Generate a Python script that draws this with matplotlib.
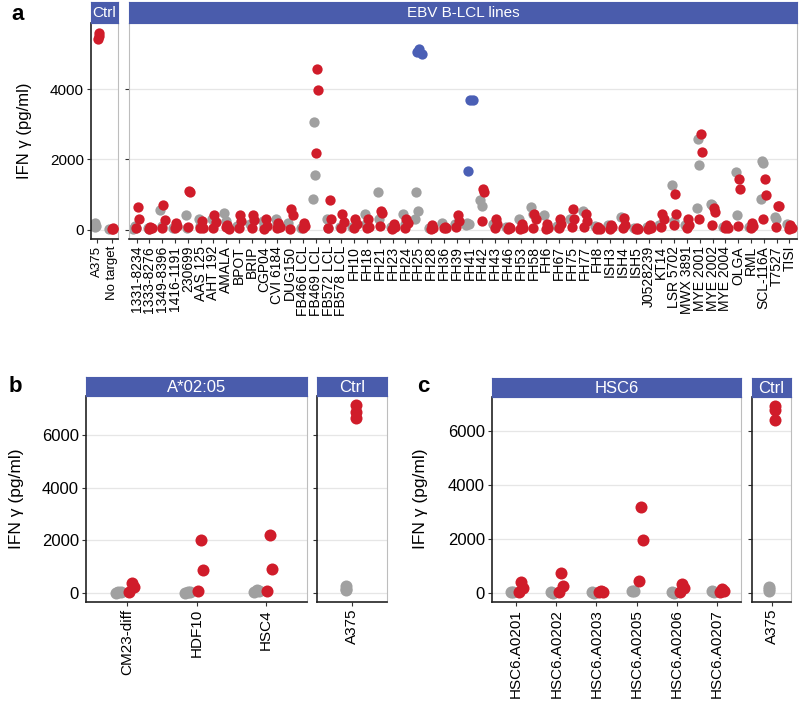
import numpy as np
import matplotlib
matplotlib.use("Agg")
import matplotlib.pyplot as plt

plt.rcParams['font.family'] = ['Liberation Sans', 'DejaVu Sans']

# ===================== DATA =====================
# panel a - controls
ctrl_a      = ["A375", "No target"]
ctrl_a_gray = [[200, 100, 60], [10]]
ctrl_a_red  = [[5600, 5500, 5420], [30, 20, 10]]

# panel a - EBV B-LCL lines
lines_a = ["1331-8234", "1333-8276", "1349-8396", "1416-1191", "230699", "AAS 125",
           "AHT 192", "AMALA", "BPOT", "BRIP", "CGP04", "CVI 6184", "DUG150",
           "FB466 LCL", "FB469 LCL", "FB572 LCL", "FB578 LCL", "FH10", "FH18", "FH21",
           "FH23", "FH24", "FH25", "FH28", "FH36", "FH39", "FH41", "FH42", "FH43",
           "FH46", "FH53", "FH58", "FH6", "FH67", "FH75", "FH77", "FH8", "ISH3", "ISH4",
           "ISH5", "J0528239", "KT14", "LSR 5702", "MWX 3891", "MYE 2001", "MYE 2002",
           "MYE 2004", "OLGA", "RML", "SCL-116A", "T7527", "TISI"]
gray_a = [[100, 50, 20], [50, 20], [570, 100], [40], [400, 50], [300, 100],
          [300], [480, 250], [100], [150], [250, 100], [300, 150], [200],
          [50], [3050, 1540, 870], [300, 50], [80], [60], [450, 150], [1080, 300],
          [80], [450, 150], [1060, 540, 300], [30], [200], [150], [180, 150, 120], [830, 680], [150],
          [60], [310], [650, 450], [400], [100], [310], [540], [100], [120], [360],
          [50], [80], [120], [1280, 250], [120], [2570, 1830, 610], [730, 700],
          [80], [1650, 420], [80], [1960, 1880, 870], [370, 300], [150]]
red_a = [[650, 300, 30], [80, 50, 20], [700, 280, 30], [200, 100, 30], [1100, 1060, 80], [250, 50, 30],
         [420, 220, 40], [120, 20, 60], [420, 250, 30], [420, 280, 30], [300, 100, 20], [200, 80, 30], [590, 400, 20],
         [200, 100, 50], [4580, 3980, 2180], [830, 300, 40], [450, 220, 40], [300, 150, 50], [310, 80, 30], [520, 480, 110],
         [150, 60, 20], [310, 200, 40], [], [120, 40, 20], [70, 30, 50], [400, 250, 80], [], [1150, 1070, 240], [310, 150, 30],
         [80, 30, 10], [150, 30, 10], [450, 300, 50], [150, 30, 20], [310, 150, 30], [590, 310, 85], [450, 250, 80], [60, 20, 10], [120, 60, 20], [340, 120, 40],
         [30, 10, 20], [120, 40, 20], [450, 300, 80], [1015, 450, 120], [310, 120, 30], [2730, 2220, 310], [600, 500, 120],
         [120, 50, 30], [1440, 1150, 100], [200, 100, 30], [1440, 970, 310], [670, 660, 75], [120, 50, 20]]
blue_a = {"FH25": [5150, 5000, 5050], "FH41": [3700, 3680, 1670]}

# panel b
cells_b     = ["CM23-diff", "HDF10", "HSC4"]
gray_b      = [[30, 10, 0], [30, 10, 0], [100, 50, 20]]
red_b       = [[350, 200, 20], [2020, 850, 50], [2210, 910, 50]]
ctrl_b_gray = [[250, 150, 100]]
ctrl_b_red  = [[7150, 6900, 6680]]

# panel c
cells_c     = ["HSC6.A0201", "HSC6.A0202", "HSC6.A0203", "HSC6.A0205", "HSC6.A0206", "HSC6.A0207"]
gray_c      = [[50, 30], [30, 20], [30, 20], [100, 80], [30, 20], [80, 60]]
red_c       = [[420, 200, 30], [750, 250, 30], [80, 60, 40], [3190, 1960, 440], [350, 200, 30], [150, 100, 60]]
ctrl_c_gray = [[220, 150, 100]]
ctrl_c_red  = [[6920, 6800, 6400]]

# ===================== STYLE =====================
GRAY, RED, BLUE = "#A0A0A0", "#D01C2A", "#4A5FB5"
STRIP = "#4A5CAC"
W, H = 800, 702


def box(x0, y0, x1, y1):
    # pixel box (top-left origin) -> figure fraction
    return [x0 / W, 1 - y1 / H, (x1 - x0) / W, (y1 - y0) / H]


def strip(fig, x0, x1, y0, y1, text, fs):
    sax = fig.add_axes(box(x0, y0, x1, y1))
    sax.set_facecolor(STRIP)
    sax.set_xticks([]); sax.set_yticks([])
    for s in sax.spines.values():
        s.set_color(STRIP)
    sax.text(0.5, 0.47, text, color="white", fontsize=fs, ha="center", va="center",
             transform=sax.transAxes)


def panel(ax, cats, gray, red, blue=None, ylim=(0, 1), yticks=(), show_y=True,
          ms=36, xfs=10, yfs=11, dark_left=True, jw=0.0, goff=-0.15, roff=0.08,
          xpad=0.6):
    jit = [0.0, 1.0, -1.0]
    for i, c in enumerate(cats):
        g = gray[i]
        ax.scatter([i + goff + jit[k % 3] * jw for k in range(len(g))], g, s=ms,
                   color=GRAY, lw=0, zorder=2)
        r = red[i]
        ax.scatter([i + roff + jit[k % 3] * jw for k in range(len(r))], r, s=ms,
                   color=RED, lw=0, zorder=3)
        if blue and c in blue:
            b = blue[c]
            ax.scatter([i + roff + jit[k % 3] * 0.2 for k in range(len(b))], b, s=ms,
                       color=BLUE, lw=0, zorder=3)
    ax.set_xlim(-xpad, len(cats) - 1 + xpad)
    ax.set_ylim(*ylim)
    ax.set_xticks(range(len(cats)))
    ax.set_xticklabels(cats, rotation=90, fontsize=xfs)
    ax.set_yticks(yticks)
    for y in yticks:
        ax.axhline(y, color="#E6E6E6", lw=0.9, zorder=0)
    if show_y:
        ax.set_yticklabels([str(y) for y in yticks], fontsize=yfs)
    else:
        ax.tick_params(axis="y", length=0, labelleft=False)
    ax.tick_params(axis="both", length=3, width=0.8, color="#333333", pad=2)
    for s in ("top", "right"):
        ax.spines[s].set_color("#BDBDBD")
    ax.spines["bottom"].set_color("#222222")
    ax.spines["bottom"].set_linewidth(1.2)
    ax.spines["left"].set_color("#222222" if dark_left else "#BDBDBD")
    ax.spines["left"].set_linewidth(1.2 if dark_left else 0.8)


def yrange(*groups):
    vals = [v for g in groups for lst in g for v in lst]
    lo, hi = min(vals), max(vals)
    pad = 0.05 * (hi - lo)
    return lo - pad, hi + pad


fig = plt.figure(figsize=(W / 100, H / 100), dpi=100)

# ---- panel a ----
ylim_a = yrange(ctrl_a_gray, ctrl_a_red, gray_a, red_a, list(blue_a.values()))
ax = fig.add_axes(box(91, 23, 118, 239))
panel(ax, ctrl_a, ctrl_a_gray, ctrl_a_red, ylim=ylim_a, yticks=[0, 2000, 4000], ms=55,
      xfs=9.5, jw=0.05, xpad=0.45)
ax = fig.add_axes(box(129, 23, 797, 239))
panel(ax, lines_a, gray_a, red_a, blue_a, ylim=ylim_a, yticks=[0, 2000, 4000],
      show_y=False, ms=55, xfs=10, dark_left=False, jw=0.1)
strip(fig, 91, 118, 2, 23, "Ctrl", 11)
strip(fig, 129, 797, 2, 23, "EBV B-LCL lines", 11)
fig.text(18 / W, 1 - 15 / H, "a", fontsize=16, fontweight="bold", ha="center", va="center")
fig.text(25 / W, 1 - 131 / H, "IFN γ (pg/ml)", rotation=90, fontsize=12,
         ha="center", va="center")

# ---- panel b ----
ylim_b = yrange(gray_b, red_b, ctrl_b_gray, ctrl_b_red)
ax = fig.add_axes(box(86, 396, 307, 602))
panel(ax, cells_b, gray_b, red_b, ylim=ylim_b, yticks=[0, 2000, 4000, 6000], ms=75,
      xfs=11, yfs=12, jw=0.04, goff=-0.13, roff=0.06)
ax = fig.add_axes(box(317, 396, 387, 602))
panel(ax, ["A375"], ctrl_b_gray, ctrl_b_red, ylim=ylim_b, yticks=[0, 2000, 4000, 6000],
      show_y=False, ms=75, xfs=11, goff=-0.1, roff=0.07)
strip(fig, 86, 307, 377, 396, "A*02:05", 12)
strip(fig, 317, 387, 377, 396, "Ctrl", 12)
fig.text(15 / W, 1 - 387 / H, "b", fontsize=16, fontweight="bold", ha="center", va="center")
fig.text(17 / W, 1 - 499 / H, "IFN γ (pg/ml)", rotation=90, fontsize=12.5,
         ha="center", va="center")

# ---- panel c ----
ylim_c = yrange(gray_c, red_c, ctrl_c_gray, ctrl_c_red)
ax = fig.add_axes(box(492, 397, 741, 602))
panel(ax, cells_c, gray_c, red_c, ylim=ylim_c, yticks=[0, 2000, 4000, 6000], ms=75,
      xfs=11, yfs=12, jw=0.05, goff=-0.12, roff=0.12)
ax = fig.add_axes(box(752, 397, 791, 602))
panel(ax, ["A375"], ctrl_c_gray, ctrl_c_red, ylim=ylim_c, yticks=[0, 2000, 4000, 6000],
      show_y=False, ms=75, xfs=11, goff=-0.08, roff=0.1)
strip(fig, 492, 741, 378, 397, "HSC6", 12)
strip(fig, 752, 791, 378, 397, "Ctrl", 12)
fig.text(423 / W, 1 - 387 / H, "c", fontsize=16, fontweight="bold", ha="center", va="center")
fig.text(420 / W, 1 - 499 / H, "IFN γ (pg/ml)", rotation=90, fontsize=12.5,
         ha="center", va="center")

fig.savefig("out.png", dpi=100)
